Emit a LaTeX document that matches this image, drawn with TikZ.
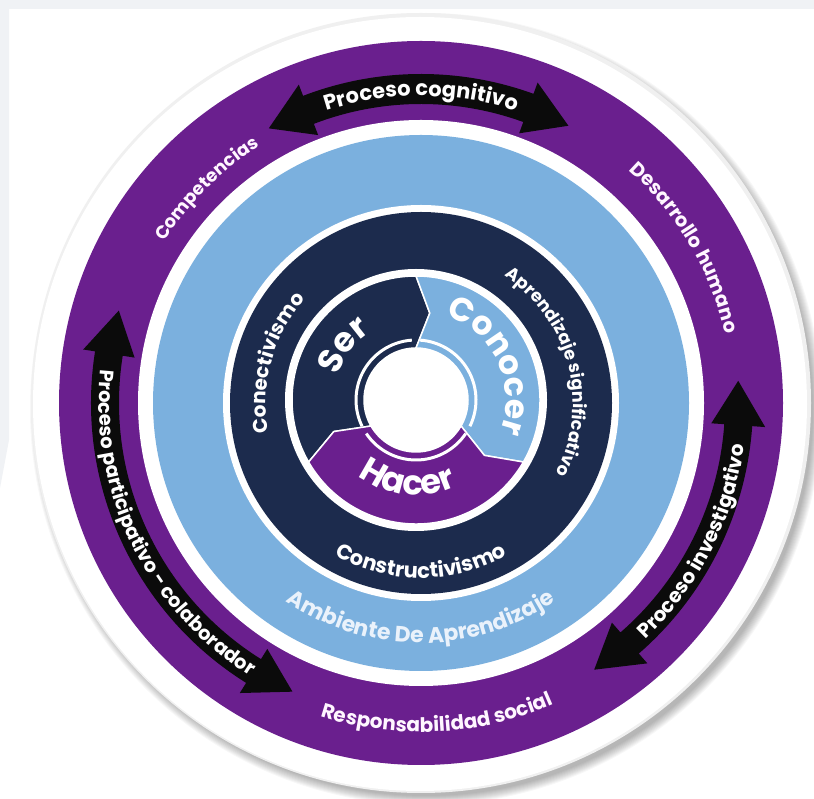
\documentclass[tikz,border=0pt]{standalone}
\usepackage{fontspec}
\setmainfont{Poppins}
\usetikzlibrary{decorations.text}
\definecolor{bgGray}{HTML}{F0F2F5}
\definecolor{ringPurple}{HTML}{6A1F8E}
\definecolor{ringBlue}{HTML}{7BB0DE}
\definecolor{ringNavy}{HTML}{1C2B4D}
\definecolor{arrowBlack}{HTML}{0B0B0B}
\definecolor{paleText}{HTML}{EAF2FB}
\definecolor{pinkWhite}{HTML}{FFF6FF}

% radius, start angle, end angle, font, colour, text
\newcommand{\arctext}[6]{%
  \path[decorate, decoration={text along path, text align=center,
      text color=#5, text={|#4|#6}}]
    (#2:#1) arc[start angle=#2, end angle=#3, radius=#1];
}
% r, half width, head half width, head angle, a1, a2 (a1<a2)
\newcommand{\bandarrow}[6]{%
  \fill[arrowBlack] (#5:#1) -- ({#5+#4}:{#1+#3}) -- ({#5+#4}:{#1+#2})
    arc[start angle={#5+#4}, end angle={#6-#4}, radius={#1+#2}]
    -- ({#6-#4}:{#1+#3}) -- (#6:#1) -- ({#6-#4}:{#1-#3}) -- ({#6-#4}:{#1-#2})
    arc[start angle={#6-#4}, end angle={#5+#4}, radius={#1-#2}]
    -- ({#5+#4}:{#1-#3}) -- cycle;
}
% sector: colour, start junction, end junction
\newcommand{\cyclesector}[3]{%
  \fill[#1, draw=white, line width=1.5pt] (#2:124)
    arc[start angle=#2, end angle=#3, radius=124]
    -- ({#3-9}:88) -- (#3:52)
    arc[start angle=#3, end angle=#2, radius=52]
    -- ({#2-9}:88) -- cycle;
}
\newcommand{\fsz}[1]{\bfseries\fontsize{#1}{#1}\selectfont}

\begin{document}
\begin{tikzpicture}[x=1pt,y=1pt]
\useasboundingbox (0,0) rectangle (814,798);
\fill[white] (0,0) rectangle (814,798);
% screenshot background
\fill[bgGray] (0,798) rectangle (814,789);
\fill[bgGray] (0,798) -- (9,798) -- (9,358) -- (0,310) -- cycle;

\begin{scope}[shift={(421,395)}]
  % shadow and outer white disc
  \foreach \i in {1,...,10}
    \fill[black, opacity=0.03] (5,-6) circle ({386+\i});
  \fill[black!6] (0,0) circle (390);
  \fill[white] (-1,-1) circle (387);
  % rings
  \fill[ringPurple] (0,0) circle (362);
  \fill[white] (0,0) circle (283);
  \fill[ringBlue] (0,0) circle (268);
  \fill[white] (0,0) circle (198);
  \fill[ringNavy] (0,0) circle (191);
  \begin{scope}[shift={(-5,3)}]
    \fill[white] (0,0) circle (131);
    % inner cycle
    \cyclesector{ringNavy}{90}{210}
    \cyclesector{ringBlue}{-30}{90}
    \cyclesector{ringPurple}{-150}{-30}
    \fill[white] (0,0) circle (52);
    \foreach \a in {94,-26,214}
      \draw[white, line width=3pt] (\a:60) arc[start angle=\a, end angle={\a+112}, radius=60];
    \arctext{82}{175}{111}{\fsz{34}}{white}{Ser}
    \arctext{90}{78}{-28}{\fsz{33}}{white}{Conocer}
    \arctext{95}{230}{298}{\fsz{34}}{white}{Hacer}
  \end{scope}

  % arrows in the purple ring
  \bandarrow{314}{15}{27}{8}{62}{119}
  \bandarrow{316}{14}{26}{8}{163}{246}
  \bandarrow{318}{14}{27}{8}{-57}{4}

  % texts in the purple ring
  \arctext{307}{115}{65}{\fsz{21}}{white}{Proceso cognitivo}
  \arctext{322}{168}{244}{\fsz{19.5}}{white}{Proceso participativo - colaborador}
  \arctext{326}{-56}{2}{\fsz{20}}{white}{Proceso investigativo}
  \arctext{303}{150}{120}{\fsz{18}}{pinkWhite}{Competencias}
  \arctext{312}{55}{6}{\fsz{19.5}}{pinkWhite}{Desarrollo humano}
  \arctext{329}{243}{303}{\fsz{20}}{pinkWhite}{Responsabilidad social}
  % blue ring
  \arctext{240}{222}{318}{\fsz{22}}{paleText}{Ambiente De Aprendizaje}
  % navy ring
  \arctext{155}{200}{129}{\fsz{20}}{white}{Conectivismo}
  \arctext{152}{65}{-36}{\fsz{17.5}}{white}{Aprendizaje significativo}
  \arctext{175}{225}{315}{\fsz{21}}{white}{Constructivismo}
\end{scope}
\end{tikzpicture}
\end{document}
